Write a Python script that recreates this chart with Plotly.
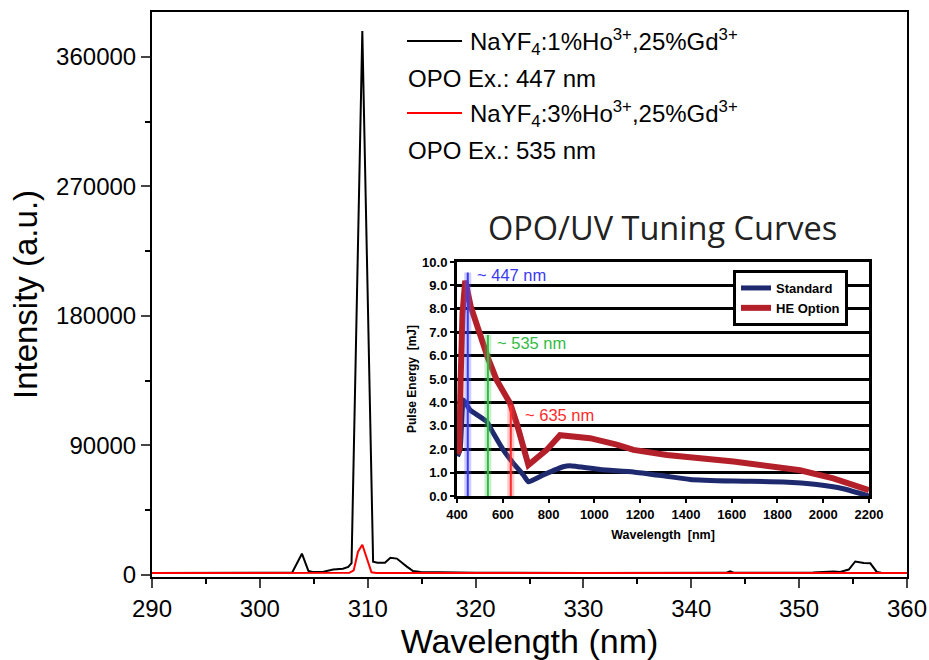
import plotly.graph_objects as go

# ---- Emission spectra (main panel) ----
wl_1ho = [290, 295, 300, 303.0, 303.9, 304.5, 305.0, 305.9, 306.8, 307.7, 308.2, 308.5,
          309.5, 310.5, 310.9, 311.6, 312.1, 312.7, 313.6, 314.2, 314.9, 320, 330,
          340, 343.2, 343.6, 344.0, 348, 351.3, 353.2, 353.8, 354.6, 355.2, 356.0,
          356.6, 357.2, 357.6, 360]
int_1ho = [1200, 1200, 1200, 1500, 14600, 2600, 1800, 2000, 3600, 4200, 5400, 8000,
           378000, 9000, 8300, 8300, 11800, 11200, 5800, 2500, 1800, 1300, 1200,
           1200, 1300, 2300, 1300, 1300, 1600, 2300, 1900, 3600, 9200, 8200,
           7900, 1900, 1300, 1200]

wl_3ho = [290, 300, 305, 308.3, 308.7, 309.1, 309.5, 309.8, 310.35, 310.8, 315, 330, 345, 360]
int_3ho = [1200, 1200, 1200, 1300, 3000, 16000, 20800, 14000, 1700, 1200, 1200, 1200, 1200, 1200]

# ---- OPO/UV tuning curves (inset) ----
std_wl = [402, 414, 428, 457, 530, 559, 602, 646, 690, 712, 777, 864, 894, 1025, 1171,
          1317, 1418, 1608, 1826, 1972, 2088, 2200]
std_e = [1.7, 2.0, 4.1, 3.68, 3.18, 2.68, 1.97, 1.4, 0.9, 0.61, 0.9, 1.25, 1.29, 1.13, 1.03,
         0.84, 0.71, 0.64, 0.6, 0.49, 0.31, 0.0]

he_wl = [402, 410, 416, 424, 436, 460, 535, 573, 632, 661, 712, 792, 850, 923, 981,
         1098, 1171, 1317, 1608, 1899, 2044, 2200]
he_e = [1.8, 2.0, 5.0, 7.8, 9.2, 8.1, 5.9, 4.96, 3.96, 3.1, 1.32, 1.97, 2.6, 2.5, 2.47,
        2.2, 1.97, 1.75, 1.47, 1.1, 0.75, 0.25]

marker_wl = [447, 535, 635]
marker_top = [9.55, 6.88, 3.9]
marker_text = ["~ 447 nm", "~ 535 nm", "~ 635 nm"]
marker_color = ["#3a3af2", "#33bb44", "#ff2a2a"]
marker_glow = ["rgba(90,90,255,0.30)", "rgba(70,200,90,0.30)", "rgba(255,70,70,0.30)"]
marker_label_xy = [(479, 9.44), (566, 6.52), (690, 3.46)]

FONT = "Liberation Sans, Arial, sans-serif"

fig = go.Figure()

fig.add_trace(go.Scatter(x=wl_1ho, y=int_1ho, mode="lines",
                         line=dict(color="black", width=2), showlegend=False,
                         xaxis="x", yaxis="y"))
fig.add_trace(go.Scatter(x=wl_3ho, y=int_3ho, mode="lines",
                         line=dict(color="#ff0000", width=2), showlegend=False,
                         xaxis="x", yaxis="y"))

# inset curves
fig.add_trace(go.Scatter(x=std_wl, y=std_e, mode="lines", name="<b>Standard</b>",
                         line=dict(color="#1f2a6e", width=5, shape="spline", smoothing=0.4),
                         xaxis="x2", yaxis="y2"))
fig.add_trace(go.Scatter(x=he_wl, y=he_e, mode="lines", name="<b>HE Option</b>",
                         line=dict(color="#b3202a", width=6),
                         xaxis="x2", yaxis="y2"))

# excitation markers in the inset
for wl, top, col, glow in zip(marker_wl, marker_top, marker_color, marker_glow):
    fig.add_trace(go.Scatter(x=[wl, wl], y=[0, top], mode="lines",
                             line=dict(color=glow, width=7), showlegend=False,
                             hoverinfo="skip", xaxis="x2", yaxis="y2"))
    fig.add_trace(go.Scatter(x=[wl, wl], y=[0, top], mode="lines",
                             line=dict(color=col, width=2), showlegend=False,
                             hoverinfo="skip", xaxis="x2", yaxis="y2"))

annotations = []
for (lx, ly), txt, col in zip(marker_label_xy, marker_text, marker_color):
    annotations.append(dict(x=lx, y=ly, xref="x2", yref="y2", text=txt, showarrow=False,
                            xanchor="left", yanchor="middle",
                            font=dict(family=FONT, size=16.5, color=col)))

# plot-area pixel helpers for paper coordinates
L, R, T, B = 152, 907, 12, 577
def px(xp):
    return (xp - L) / (R - L)
def py(yp):
    return (B - yp) / (B - T)

# main legend, drawn as line samples and text
legend_rows = [
    (41, "black", "NaYF<sub>4</sub>:1%Ho<sup>3+</sup>,25%Gd<sup>3+</sup>"),
    (113, "#ff0000", "NaYF<sub>4</sub>:3%Ho<sup>3+</sup>,25%Gd<sup>3+</sup>"),
]
shapes = []
for yy, col, txt in legend_rows:
    shapes.append(dict(type="line", xref="paper", yref="paper", x0=px(407), x1=px(462),
                       y0=py(yy), y1=py(yy), line=dict(color=col, width=2)))
    annotations.append(dict(x=px(468), y=py(yy + 1), xref="paper", yref="paper", text=txt,
                            showarrow=False, xanchor="left", yanchor="middle",
                            font=dict(family=FONT, size=24, color="black")))
for yy, txt in [(78, "OPO Ex.: 447 nm"), (150, "OPO Ex.: 535 nm")]:
    annotations.append(dict(x=px(406), y=py(yy), xref="paper", yref="paper", text=txt,
                            showarrow=False, xanchor="left", yanchor="middle",
                            font=dict(family=FONT, size=24, color="black")))

annotations.append(dict(x=px(662), y=py(227), xref="paper", yref="paper",
                        text="OPO/UV Tuning Curves", showarrow=False,
                        xanchor="center", yanchor="middle",
                        font=dict(family="Open Sans, sans-serif", size=32.5, color="#222222")))

fig.update_layout(
    width=929, height=660,
    margin=dict(l=L, r=929 - R, t=T, b=660 - B),
    paper_bgcolor="white", plot_bgcolor="white",
    font=dict(family=FONT, color="black"),
    xaxis=dict(range=[290, 360], dtick=10, ticks="outside", ticklen=9, tickwidth=2,
               showline=True, linecolor="black", linewidth=2, mirror=True,
               showgrid=False, zeroline=False, automargin=False,
               minor=dict(ticks="outside", ticklen=5, tickwidth=2, dtick=5, tickcolor="black"),
               tickfont=dict(size=24),
               title=dict(text="Wavelength (nm)", font=dict(size=34), standoff=5)),
    yaxis=dict(range=[-1600, 391300], tickvals=[0, 90000, 180000, 270000, 360000],
               tickformat="d", ticks="outside", ticklen=9, tickwidth=2,
               showline=True, linecolor="black", linewidth=2, mirror=True,
               showgrid=False, zeroline=False, automargin=False,
               minor=dict(ticks="outside", ticklen=5, tickwidth=2,
                          tickvals=[45000, 135000, 225000, 315000], tickcolor="black"),
               tickfont=dict(size=24),
               title=dict(text="Intensity (a.u.)", font=dict(size=33), standoff=9)),
    xaxis2=dict(domain=[px(457), px(869)], anchor="y2", range=[400, 2200], dtick=200,
                ticks="outside", ticklen=4, tickwidth=2, tickcolor="black",
                showline=True, linecolor="black", linewidth=3, mirror=True,
                showgrid=False, zeroline=False, automargin=False,
                tickfont=dict(size=13, weight="bold"),
                title=dict(text="Wavelength  [nm]", font=dict(size=12.5, weight="bold"), standoff=10)),
    yaxis2=dict(domain=[py(496), py(262)], anchor="x2", range=[0, 10], dtick=1,
                tickformat=".1f", ticks="outside", ticklen=4, tickwidth=2, tickcolor="black",
                showline=True, linecolor="black", linewidth=3, mirror=True,
                showgrid=True, gridcolor="black", gridwidth=3, zeroline=False, automargin=False,
                tickfont=dict(size=13, weight="bold"),
                title=dict(text="Pulse Energy  [mJ]", font=dict(size=12, weight="bold"), standoff=3)),
    legend=dict(x=px(733), y=py(270), xanchor="left", yanchor="top",
                bgcolor="white", bordercolor="black", borderwidth=3,
                font=dict(family=FONT, size=13, color="black"),
                itemwidth=30, tracegroupgap=2),
    shapes=shapes,
    annotations=annotations,
)

fig.write_html("out.html")
